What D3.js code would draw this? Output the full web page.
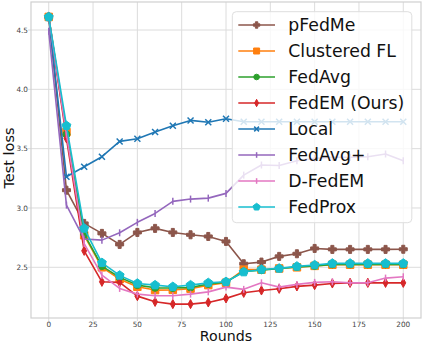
<!DOCTYPE html>
<html><head><meta charset="utf-8">
<script src="https://cdn.jsdelivr.net/npm/d3@7"></script>
<style>body{margin:0;background:#fff}svg{display:block;font-family:"DejaVu Sans",sans-serif}</style>
</head><body><svg id="c" width="423" height="345"></svg>
<script>
const rounds = [0,10,20,30,40,50,60,70,80,90,100,110,120,130,140,150,160,170,180,190,200];
const pFedMe     = [4.61,3.15,2.87,2.786,2.693,2.794,2.828,2.794,2.774,2.76,2.718,2.53,2.544,2.592,2.614,2.659,2.651,2.651,2.651,2.651,2.652];
const clusteredFL= [4.61,3.64,2.77,2.50,2.40,2.336,2.308,2.31,2.32,2.35,2.37,2.48,2.48,2.49,2.50,2.512,2.522,2.522,2.522,2.522,2.522];
const fedAvg     = [4.61,3.62,2.78,2.51,2.415,2.35,2.327,2.325,2.33,2.36,2.375,2.465,2.475,2.49,2.502,2.512,2.525,2.525,2.525,2.525,2.525];
const fedEM      = [4.61,3.587,2.639,2.378,2.373,2.257,2.209,2.19,2.19,2.204,2.238,2.285,2.305,2.319,2.339,2.35,2.364,2.369,2.369,2.369,2.369];
const local      = [4.61,3.263,3.347,3.432,3.561,3.583,3.64,3.693,3.738,3.722,3.752,3.727,3.727,3.727,3.727,3.727,3.727,3.727,3.727,3.727,3.727];
const fedAvgPlus = [4.49,3.024,2.738,2.729,2.791,2.879,2.954,3.056,3.075,3.083,3.123,3.277,3.362,3.358,3.398,3.418,3.427,3.427,3.432,3.455,3.398];
const dFedEM     = [4.61,3.62,2.70,2.434,2.322,2.274,2.26,2.26,2.274,2.293,2.333,2.314,2.369,2.333,2.356,2.373,2.378,2.369,2.369,2.409,2.42];
const fedProx    = [4.61,3.693,2.828,2.538,2.432,2.364,2.35,2.336,2.35,2.369,2.378,2.46,2.482,2.491,2.508,2.519,2.533,2.533,2.533,2.533,2.533];
const seriesNames = ["pFedMe","Clustered FL","FedAvg","FedEM (Ours)","Local","FedAvg+","D-FedEM","FedProx"];
const xTicks = [0,25,50,75,100,125,150,175,200];
const yTicks = [2.5,3.0,3.5,4.0,4.5];
const xLabel = "Rounds", yLabel = "Test loss";

const seriesData = [pFedMe,clusteredFL,fedAvg,fedEM,local,fedAvgPlus,dFedEM,fedProx];
const colors = ["#8c564b","#ff7f0e","#2ca02c","#d62728","#1f77b4","#9467bd","#e377c2","#17becf"];
const markers = ["P","s","o","d","x","|","|","p"];

const svg = d3.select("#c");
const L=31,R=421,T=2,B=318;
const x = d3.scaleLinear().domain([-10,210]).range([L,R]);
const y = d3.scaleLinear().domain([2.0727,4.736]).range([B,T]);

// grid
const g = svg.append("g");
g.selectAll(".gx").data(xTicks).join("line").attr("x1",d=>x(d)).attr("x2",d=>x(d)).attr("y1",T).attr("y2",B+3).attr("stroke","#dcdcdc").attr("stroke-width",1);
g.selectAll(".gy").data(yTicks).join("line").attr("y1",d=>y(d)).attr("y2",d=>y(d)).attr("x1",L-3).attr("x2",R).attr("stroke","#dcdcdc").attr("stroke-width",1);
svg.append("rect").attr("x",L).attr("y",T).attr("width",R-L).attr("height",B-T).attr("fill","none").attr("stroke","#d0d0d0").attr("stroke-width",1.2);

// tick labels
svg.selectAll(".tx").data(xTicks).join("text").attr("x",d=>x(d)).attr("y",B+9).attr("text-anchor","middle").attr("font-size","7.3px").attr("fill","#444").text(d=>d);
svg.selectAll(".ty").data(yTicks).join("text").attr("x",L-3).attr("y",d=>y(d)).attr("dy","0.35em").attr("text-anchor","end").attr("font-size","7.3px").attr("fill","#444").text(d=>d.toFixed(1));
svg.append("text").attr("x",(L+R)/2).attr("y",341).attr("text-anchor","middle").attr("font-size","14.2px").attr("fill","#111").text(xLabel);
svg.append("text").attr("transform","translate(13.5,"+158+") rotate(-90)").attr("text-anchor","middle").attr("font-size","14.5px").attr("fill","#111").text(yLabel);

function markerPath(type, s){
  const h=s/2;
  switch(type){
    case "s": return `M${-h},${-h}H${h}V${h}H${-h}Z`;
    case "o": return d3.symbol(d3.symbolCircle, Math.PI*h*h)();
    case "d": { const w=h*0.62; return `M0,${-h*1.15}L${w},0L0,${h*1.15}L${-w},0Z`; }
    case "P": { const a=h, b=h*0.38; return `M${-b},${-a}H${b}V${-b}H${a}V${b}H${b}V${a}H${-b}V${b}H${-a}V${-b}H${-b}Z`; }
    case "p": { let p=""; for(let i=0;i<5;i++){const ang=-Math.PI/2+i*2*Math.PI/5; p+=(i?"L":"M")+(h*1.1*Math.cos(ang)).toFixed(2)+","+(h*1.1*Math.sin(ang)).toFixed(2);} return p+"Z"; }
    case "x": return `M${-h},${-h}L${h},${h}M${-h},${h}L${h},${-h}`;
    case "|": return `M0,${-h}V${h}`;
  }
}
const msize = {"P":8,"s":7.5,"o":7,"d":8,"x":6,"|":7,"p":8.5};
const line = d3.line().x((d,i)=>x(rounds[i])).y(d=>y(d));

seriesData.forEach((vals,k)=>{
  const gg = svg.append("g");
  gg.append("path").attr("d",line(vals)).attr("fill","none").attr("stroke",colors[k]).attr("stroke-width",1.6).attr("stroke-linejoin","round");
  const mk = markers[k];
  const stroked = (mk==="x"||mk==="|");
  gg.selectAll("path.m").data(vals).join("path").attr("class","m")
    .attr("transform",(d,i)=>`translate(${x(rounds[i])},${y(d)})`)
    .attr("d",markerPath(mk,msize[mk]))
    .attr("fill",stroked?"none":colors[k])
    .attr("stroke",colors[k]).attr("stroke-width",stroked?1.5:1);
});

// legend
const lg = svg.append("g");
lg.append("rect").attr("x",232.3).attr("y",11.7).attr("width",179.5).attr("height",211).attr("rx",4)
  .attr("fill","#fff").attr("fill-opacity",0.8).attr("stroke","#dedede").attr("stroke-width",1);
seriesNames.forEach((n,k)=>{
  const cy = 25 + k*26;
  lg.append("line").attr("x1",238.3).attr("x2",275).attr("y1",cy).attr("y2",cy).attr("stroke",colors[k]).attr("stroke-width",1.6);
  const mk=markers[k]; const stroked=(mk==="x"||mk==="|");
  lg.append("path").attr("transform",`translate(256.6,${cy})`).attr("d",markerPath(mk,msize[mk]*0.8))
    .attr("fill",stroked?"none":colors[k]).attr("stroke",colors[k]).attr("stroke-width",stroked?1.5:1);
  lg.append("text").attr("x",288.3).attr("y",cy).attr("dy","0.36em").attr("font-size","17.3px").attr("fill","#111").text(n);
});
</script></body></html>
